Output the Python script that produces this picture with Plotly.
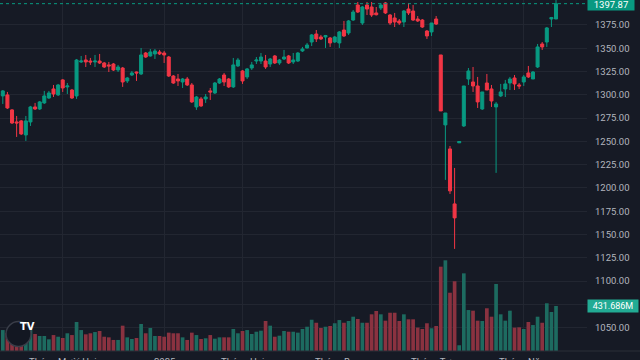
import plotly.graph_objects as go

# ---------------- data ----------------
opens = [1298.8,1299.9,1283.8,1270.9,1272.0,1256.9,1270.9,1287.0,1284.8,1291.3,
         1296.6,1306.3,1299.9,1316.0,1308.5,1305.2,1298.8,1335.3,1337.4,1336.3,
         1335.3,1336.3,1334.2,1332.1,1333.1,1326.7,1328.8,1314.9,1321.3,1324.5,
         1322.4,1344.9,1341.7,1343.9,1346.0,1344.9,1340.6,1320.2,1317.0,1313.8,
         1317.0,1310.6,1287.0,1295.6,1295.6,1304.2,1302.0,1312.7,1321.3,1317.0,
         1308.5,1331.0,1325.6,1319.2,1328.8,1336.3,1336.3,1336.3,1333.1,1341.7,
         1334.2,1338.5,1341.7,1335.3,1336.3,1347.1,1350.3,1356.7,1365.3,1362.1,
         1362.1,1361.0,1356.7,1355.7,1369.6,1366.4,1380.3,1396.4,1377.1,1396.4,
         1394.3,1387.9,1393.2,1398.6,1385.7,1382.5,1379.3,1378.2,1392.1,1390.0,
         1381.4,1380.3,1368.5,1367.5,1381.4,1342.8,1267.7,1241.9,1182.9,1248.5,
         1266.6,1317.0,1313.8,1309.5,1284.8,1312.7,1306.3,1287.0,1298.8,1306.3,
         1312.7,1318.1,1310.6,1313.8,1323.5,1317.0,1329.9,1354.6,1356.7,1381.4,
         1381.4]
highs = [1305.2,1303.1,1284.8,1277.3,1273.0,1277.3,1288.1,1291.3,1293.4,1304.2,
         1304.2,1310.6,1311.7,1317.0,1312.7,1306.3,1338.5,1341.7,1342.8,1339.6,
         1342.8,1343.9,1335.3,1335.3,1334.2,1332.1,1329.9,1319.2,1325.6,1325.0,
         1350.3,1346.0,1349.2,1349.2,1348.2,1347.1,1341.7,1321.3,1322.4,1318.1,
         1319.2,1312.7,1298.8,1297.7,1300.9,1307.4,1313.8,1318.1,1323.5,1318.1,
         1339.6,1339.6,1326.7,1328.8,1335.3,1340.6,1344.9,1342.8,1339.6,1342.8,
         1338.5,1348.2,1342.8,1344.9,1345.9,1351.4,1355.7,1365.3,1369.6,1364.3,
         1364.3,1362.1,1363.2,1368.5,1379.3,1380.3,1391.1,1399.7,1395.4,1399.7,
         1399.7,1394.3,1398.6,1399.7,1386.8,1387.9,1381.4,1391.1,1398.6,1396.4,
         1384.6,1381.4,1369.6,1377.1,1384.6,1342.8,1280.5,1245.1,1221.5,1250.0,
         1309.5,1328.8,1329.9,1319.2,1303.1,1322.4,1310.6,1292.4,1311.7,1316.0,
         1319.2,1321.3,1312.7,1321.3,1331.0,1325.6,1354.6,1356.7,1372.8,1383.6,
         1401.8]
lows = [1290.2,1284.8,1268.7,1254.8,1256.9,1250.5,1266.6,1283.8,1283.8,1290.2,
        1295.6,1297.7,1298.8,1303.1,1300.9,1295.6,1295.6,1334.2,1329.9,1332.1,
        1329.9,1333.1,1328.8,1324.5,1325.6,1324.5,1308.5,1312.7,1320.2,1314.9,
        1321.3,1339.6,1341.0,1338.5,1342.8,1334.2,1319.2,1311.7,1309.5,1307.4,
        1309.5,1291.3,1283.8,1287.0,1291.3,1294.5,1300.9,1311.7,1309.5,1307.4,
        1307.4,1329.9,1311.7,1317.0,1326.7,1333.1,1333.1,1327.8,1329.9,1333.1,
        1332.1,1337.4,1333.1,1333.1,1335.3,1346.0,1349.8,1352.4,1356.7,1358.9,
        1350.3,1351.4,1355.7,1350.3,1362.1,1364.3,1379.3,1387.9,1375.0,1385.7,
        1383.6,1385.2,1391.1,1386.8,1375.0,1372.8,1375.0,1372.8,1385.7,1379.3,
        1378.2,1371.8,1360.0,1363.2,1375.0,1282.7,1208.7,1193.6,1134.6,1248.4,
        1265.5,1310.6,1303.1,1285.9,1283.8,1305.2,1287.0,1216.2,1297.7,1297.7,
        1305.2,1305.2,1306.3,1309.5,1318.1,1317.0,1328.8,1348.2,1351.4,1372.8,
        1381.4]
closes = [1304.2,1285.9,1269.8,1269.8,1258.0,1272.0,1287.0,1284.8,1292.4,1298.8,
          1302.0,1300.9,1310.6,1307.4,1309.5,1296.6,1337.4,1336.3,1335.3,1335.3,
          1336.3,1334.2,1329.9,1331.0,1326.7,1329.9,1313.8,1318.1,1323.5,1323.5,
          1342.8,1340.6,1346.0,1347.1,1343.9,1342.8,1320.2,1312.7,1314.9,1317.0,
          1310.6,1292.4,1297.7,1288.1,1297.7,1303.1,1312.7,1317.0,1313.8,1308.5,
          1332.1,1337.4,1314.9,1327.8,1332.1,1337.4,1340.6,1329.9,1338.5,1334.2,
          1337.4,1340.6,1334.2,1337.4,1344.9,1349.2,1353.5,1364.3,1360.0,1360.0,
          1363.7,1355.7,1362.1,1367.5,1363.2,1379.3,1388.9,1388.9,1394.3,1392.1,
          1385.7,1386.0,1396.4,1387.9,1377.1,1378.2,1377.1,1390.0,1387.9,1380.3,
          1379.3,1372.8,1363.2,1377.1,1376.0,1282.7,1280.5,1196.9,1167.9,1249.9,
          1309.5,1325.6,1309.5,1292.4,1303.1,1305.2,1293.4,1290.2,1303.1,1311.7,
          1317.0,1311.7,1309.5,1319.2,1319.2,1324.5,1351.4,1351.4,1371.8,1383.0,
          1397.87]
volumes_m = [201,173,192,144,163,211,201,163,144,144,
             112,153,137,125,170,153,278,201,160,170,
             182,192,137,131,106,106,243,131,115,125,
             259,170,221,144,144,137,176,170,170,131,
             106,176,153,115,122,153,118,131,131,131,
             211,170,192,201,163,185,195,288,243,137,
             147,192,185,185,176,211,233,300,271,221,
             233,240,266,297,271,288,329,307,271,271,
             352,384,352,291,367,367,288,352,304,304,
             225,211,266,218,240,809,870,559,669,55,
             745,393,387,291,288,410,329,643,352,291,
             387,224,227,211,278,249,329,271,458,374,431.686]

month_idx = [13, 35, 52, 72, 93, 113]
month_labels = ["Tháng Mười Hai", "2025", "Tháng Hai", "Tháng Ba", "Tháng Tư", "Tháng Năm"]
price_ticks = [1050, 1075, 1100, 1125, 1150, 1175, 1200, 1225, 1250, 1275,
               1300, 1325, 1350, 1375]
hidden_ticks = [1075]   # covered by the volume label in the reference
price_labels = ["" if v in hidden_ticks else f"{v:.2f}" for v in price_ticks]
last_price = closes[-1]
last_volume = volumes_m[-1]

# ---------------- style ----------------
BG = "#161A25"
GRID = "#222631"
TXT = "#B2B5BE"
UP = "#089981"
DOWN = "#F23645"
VUP = "#1D6B60"
VDOWN = "#8A3240"
FONT = "Roboto"

idx = list(range(len(opens)))
vcolors = [VUP if c >= o else VDOWN for o, c in zip(opens, closes)]

fig = go.Figure()
fig.add_trace(go.Bar(x=idx, y=volumes_m, width=0.8, marker_color=vcolors,
                     marker_line_width=0, yaxis="y", hoverinfo="skip",
                     showlegend=False))
fig.add_trace(go.Candlestick(x=idx, open=opens, high=highs, low=lows, close=closes,
                             yaxis="y2", whiskerwidth=0, showlegend=False,
                             increasing=dict(line=dict(color=UP, width=1), fillcolor=UP),
                             decreasing=dict(line=dict(color=DOWN, width=1), fillcolor=DOWN),
                             hoverinfo="skip"))

fig.update_layout(
    width=640, height=360,
    margin=dict(l=0, r=53, t=0, b=9, autoexpand=False),
    paper_bgcolor=BG, plot_bgcolor=BG,
    font=dict(family=FONT, color=TXT, size=9.5),
    boxgap=0.3, boxgroupgap=0.07,
    showlegend=False,
    xaxis=dict(range=[-0.607, 126.72], tickvals=month_idx, showticklabels=False,
               showgrid=True, gridcolor=GRID, gridwidth=1, zeroline=False,
               ticks="", rangeslider=dict(visible=False), fixedrange=True,
               automargin=False),
    yaxis=dict(range=[0, 3367.1], visible=False, showgrid=False, zeroline=False,
               fixedrange=True, automargin=False),
    yaxis2=dict(overlaying="y", side="right", range=[1025.0, 1401.8],
                tickvals=price_ticks, ticktext=price_labels,
                tickfont=dict(family=FONT, color=TXT, size=9.5),
                showgrid=True, gridcolor=GRID, gridwidth=1, zeroline=False,
                ticks="", ticklabelstandoff=7, fixedrange=True, automargin=False),
)

shapes = [
    dict(type="line", xref="paper", x0=0, x1=1, yref="y2", y0=last_price, y1=last_price,
         line=dict(color=UP, width=1, dash="dot"), layer="above"),
    dict(type="line", xref="paper", x0=0, x1=1.1, yref="paper", y0=0, y1=0,
         line=dict(color="#2A2E39", width=1), layer="above"),
    dict(type="circle", xref="paper", yref="paper",
         x0=6 / 587, x1=31 / 587, y0=(351 - 346.5) / 351, y1=(351 - 321.5) / 351,
         fillcolor="#131722", line=dict(color="#3A3E49", width=1.5), layer="above"),
]
fig.update_layout(shapes=shapes)

ann = []
for xi, lab in zip(month_idx, month_labels):
    ann.append(dict(x=xi, xref="x", y=0, yref="paper", yanchor="top", yshift=-3,
                    text=lab, showarrow=False, font=dict(family=FONT, color=TXT, size=9.5)))
ann.append(dict(x=1, xref="paper", xanchor="left", y=last_price, yref="y2",
                text=f"{last_price:.2f}", showarrow=False, bgcolor=UP,
                width=46, height=12, borderpad=0,
                font=dict(family=FONT, color="#FFFFFF", size=9.5)))
ann.append(dict(x=1, xref="paper", xanchor="left", y=last_volume, yref="y",
                text=f"{last_volume:.3f}M", showarrow=False, bgcolor="#22AB94",
                width=50, height=12, borderpad=0,
                font=dict(family=FONT, color="#FFFFFF", size=9)))
ann.append(dict(x=18.5 / 587, xref="paper", y=(351 - 334) / 351, yref="paper",
                text="<b>TV</b>", showarrow=False,
                font=dict(family="DejaVu Sans", color="#FFFFFF", size=10)))
fig.update_layout(annotations=ann)

fig.write_html("out.html", config={"displayModeBar": False},
               post_script="document.body.style.margin='0px';document.body.style.background='#161A25';")
